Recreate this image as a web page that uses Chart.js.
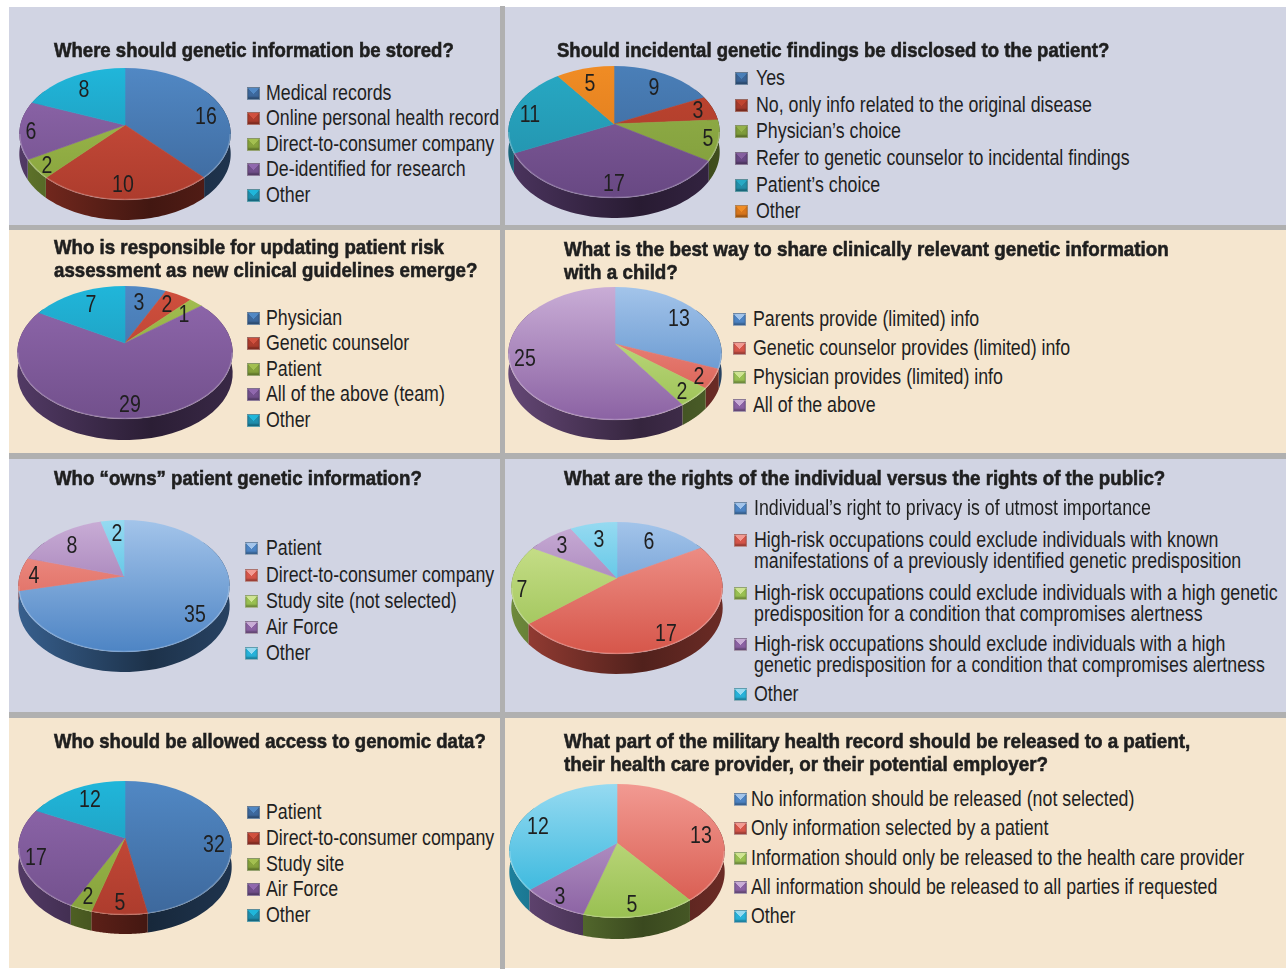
<!DOCTYPE html>
<html>
<head>
<meta charset="utf-8">
<title>Genetic information survey</title>
<script src="https://cdn.jsdelivr.net/npm/chart.js@4"></script>
<style>
  html, body { margin: 0; padding: 0; background: #fff; }
  #page { position: relative; width: 1286px; height: 969px; overflow: hidden; background: #fff; }
  .band { position: absolute; }
  canvas { position: absolute; }
  .txt { position: absolute; white-space: pre; color: #1f1f1f; font-family: 'Liberation Sans', sans-serif; }
  .title { font-size: 21px; line-height: 23px; font-weight: bold; -webkit-text-stroke: 0.6px #1f1f1f; color: #1f1f1f; transform-origin: 0 0; }
  .leg { font-size: 22px; line-height: 21px; transform-origin: 0 0; }
  .val { font-size: 23px; line-height: 23px; transform: translate(-50%, -50%) scaleX(0.85); }
  .swatch { position: absolute; width: 13px; height: 13px; box-sizing: border-box; border: 1px solid rgba(140,140,140,0.55); }
</style>
</head>
<body>
<div id="page"></div>
<script>
// survey answers, clockwise from 12 o'clock
const storedLabels = ['Medical records', 'Online personal health record', 'Direct-to-consumer company', 'De-identified for research', 'Other'];
const storedValues = [16, 10, 2, 6, 8];
const incidentalLabels = ['Yes', 'No, only info related to the original disease', "Physician\u2019s choice", 'Refer to genetic counselor to incidental findings', "Patient\u2019s choice", 'Other'];
const incidentalValues = [9, 3, 5, 17, 11, 5];
const updatingLabels = ['Physician', 'Genetic counselor', 'Patient', 'All of the above (team)', 'Other'];
const updatingValues = [3, 2, 1, 29, 7];
const childLabels = ['Parents provide (limited) info', 'Genetic counselor provides (limited) info', 'Physician provides (limited) info', 'All of the above'];
const childValues = [13, 2, 2, 25];
const ownsLabels = ['Patient', 'Direct-to-consumer company', 'Study site (not selected)', 'Air Force', 'Other'];
const ownsValues = [35, 4, 0, 8, 2];
const rightsLabels = ["Individual\u2019s right to privacy is of utmost importance",
  'High-risk occupations could exclude individuals with known\nmanifestations of a previously identified genetic predisposition',
  'High-risk occupations could exclude individuals with a high genetic\npredisposition for a condition that compromises alertness',
  'High-risk occupations should exclude individuals with a high\ngenetic predisposition for a condition that compromises alertness',
  'Other'];
const rightsValues = [6, 17, 7, 3, 3];
const accessLabels = ['Patient', 'Direct-to-consumer company', 'Study site', 'Air Force', 'Other'];
const accessValues = [32, 5, 2, 17, 12];
const recordLabels = ['No information should be released (not selected)', 'Only information selected by a patient', 'Information should only be released to the health care provider', 'All information should be released to all parties if requested', 'Other'];
const recordValues = [0, 13, 5, 3, 12];

// [top of gradient, bottom of gradient]
const darkColours = [['#5188c4', '#3d689c'], ['#d0503e', '#ad3c2d'], ['#a3bf50', '#86a23c'], ['#9068ad', '#72508c'], ['#20b6da', '#1f8fae'], ['#f39025', '#d8741a']];
const mutedColours = [['#4a7fb8', '#3a6496'], ['#c0452f', '#a53a2b'], ['#94b14a', '#7f9c3a'], ['#855f9f', '#684883'], ['#27a9c4', '#238ea8'], ['#f08c24', '#d8761c']];
const lightColours = [['#a3c4ea', '#4d84c4'], ['#f29a92', '#d6564a'], ['#cfe493', '#99c052'], ['#c9add6', '#8b62a3'], ['#96daf1', '#28b2da']];

const panels = [
  { title: 'Where should genetic information be stored?', tx: 54, ty: 38, squeeze: 0.883, labels: storedLabels, values: storedValues, colours: darkColours,
    cx: 125, cy: 125, rx: 106, up: 57, down: 75, depth: 20, legX: 266, swX: 247, legY: [93, 118, 144, 169, 195],
    valPos: [[206, 116], [123, 184], [47, 165], [31, 131], [84, 89]] },
  { title: 'Should incidental genetic findings be disclosed to the patient?', tx: 557, ty: 38, squeeze: 0.883, labels: incidentalLabels, values: incidentalValues, colours: mutedColours,
    cx: 614, cy: 124, rx: 106, up: 58, down: 74, depth: 20, legX: 756, swX: 735, legY: [78, 105, 131, 158, 185, 211],
    valPos: [[654, 87], [698, 110], [708, 138], [614, 183], [530, 114], [590, 83]] },
  { title: 'Who is responsible for updating patient risk\nassessment as new clinical guidelines emerge?', tx: 54, ty: 235, squeeze: 0.889, labels: updatingLabels, values: updatingValues, colours: darkColours,
    cx: 125, cy: 343, rx: 108, up: 57, down: 76, depth: 21, legX: 266, swX: 247, legY: [318, 343, 369, 394, 420],
    valPos: [[139, 302], [167, 304], [184, 314], [130, 404], [91, 304]] },
  { title: 'What is the best way to share clinically relevant genetic information\nwith a child?', tx: 564, ty: 237, squeeze: 0.895, labels: childLabels, values: childValues, colours: lightColours,
    cx: 615, cy: 344, rx: 107, up: 57, down: 76, depth: 20, legX: 753, swX: 733, legY: [319, 348, 377, 405],
    valPos: [[679, 318], [699, 376], [682, 391], [525, 358]] },
  { title: 'Who \u201cowns\u201d patient genetic information?', tx: 54, ty: 466, squeeze: 0.888, labels: ownsLabels, values: ownsValues, colours: lightColours,
    cx: 124, cy: 576, rx: 106, up: 56, down: 76, depth: 20, legX: 266, swX: 245, legY: [548, 575, 601, 627, 653],
    valPos: [[195, 614], [34, 575], null, [72, 545], [117, 533]] },
  { title: 'What are the rights of the individual versus the rights of the public?', tx: 564, ty: 466, squeeze: 0.89, labels: rightsLabels, values: rightsValues, colours: lightColours,
    cx: 617, cy: 578, rx: 106, up: 56, down: 76, depth: 20, legX: 754, swX: 734, legY: [508, 540, 593, 644, 694],
    valPos: [[649, 541], [666, 633], [522, 589], [562, 545], [599, 539]] },
  { title: 'Who should be allowed access to genomic data?', tx: 54, ty: 729, squeeze: 0.883, labels: accessLabels, values: accessValues, colours: darkColours,
    cx: 125, cy: 838, rx: 107, up: 57, down: 77, depth: 19, legX: 266, swX: 247, legY: [812, 838, 864, 889, 915],
    valPos: [[214, 844], [120, 902], [88, 896], [36, 857], [90, 799]] },
  { title: 'What part of the military health record should be released to a patient,\ntheir health care provider, or their potential employer?', tx: 564, ty: 729, squeeze: 0.896, labels: recordLabels, values: recordValues, colours: lightColours,
    cx: 617, cy: 843, rx: 108, up: 59, down: 75, depth: 21, legX: 751, swX: 734, legY: [799, 828, 858, 887, 916],
    valPos: [null, [701, 835], [632, 904], [560, 896], [538, 826]] }
];

const bands = [
  ['#d1d4e3', 9, 7, 491, 218], ['#d1d4e3', 505, 7, 781, 218],
  ['#f5e6cf', 9, 230, 491, 223], ['#f5e6cf', 505, 230, 781, 223],
  ['#d1d4e3', 9, 459, 491, 253], ['#d1d4e3', 505, 459, 781, 253],
  ['#f5e6cf', 9, 718, 491, 250], ['#f5e6cf', 505, 718, 781, 250]
];

const page = document.getElementById('page');
const legendSqueeze = 0.808;
const overdraw = 1.25; // arcs are blown up a bit, then cut back by the disc outline

function addText(cls, text, x, y, extra) {
  const d = document.createElement('div');
  d.className = 'txt ' + cls;
  d.textContent = text;
  d.style.left = x + 'px';
  d.style.top = y + 'px';
  if (extra) d.style.transform = extra;
  page.appendChild(d);
}

function shade(hex, f) {
  const n = parseInt(hex.slice(1), 16);
  const c = [n >> 16, (n >> 8) & 255, n & 255].map(v => Math.round(v * f));
  return 'rgb(' + c.join(',') + ')';
}

// numbers for seeing a circle in perspective: centre stays where the slices meet
function tilt(p, r) {
  const e = (p.down - p.up) / (p.down + p.up);
  const b = 2 * p.up * p.down / (p.up + p.down);
  const R = r * Math.sqrt(1 - e * e);
  return { e, b, R, k: b / R };
}

// squashes the flat Chart.js arcs into a tilted disc with a rim below it
const tiltedPie = {
  id: 'tiltedPie',
  beforeDatasetsDraw(chart, args, opts) {
    const ctx = chart.ctx;
    const arcs = chart.getDatasetMeta(0).data;
    const p = opts.panel;
    const cx = arcs[0].x, cy = arcs[0].y, r = arcs[0].outerRadius;
    const t = tilt(p, r);
    const rimPoint = a => {
      const w = 1 - t.e * Math.sin(a);
      return [cx + t.R * Math.cos(a) / w, cy + t.b * Math.sin(a) / w];
    };

    // rim
    arcs.forEach((arc, i) => {
      const from = Math.max(arc.startAngle, -0.6);
      const to = Math.min(arc.endAngle, Math.PI + 0.6);
      if (to <= from) return;
      const base = p.colours[i][1];
      const g = ctx.createLinearGradient(cx - r, 0, cx + r, 0);
      g.addColorStop(0, shade(base, 0.72));
      g.addColorStop(0.62, shade(base, 0.38));
      g.addColorStop(1, shade(base, 0.5));
      ctx.fillStyle = g;
      ctx.beginPath();
      const steps = 48;
      for (let s = 0; s <= steps; s++) {
        const q = rimPoint(from + (to - from) * s / steps);
        if (s === 0) ctx.moveTo(q[0], q[1]);
        else ctx.lineTo(q[0], q[1]);
      }
      for (let s = steps; s >= 0; s--) {
        const q = rimPoint(from + (to - from) * s / steps);
        ctx.lineTo(q[0], q[1] + p.depth);
      }
      ctx.closePath();
      ctx.fill();
    });

    // top face
    const ecy = cy + (p.down - p.up) / 2;
    const ery = (p.down + p.up) / 2;
    ctx.save();
    ctx.beginPath();
    ctx.ellipse(cx, ecy, r, ery, 0, 0, Math.PI * 2);
    ctx.clip();
    ctx.translate(cx, cy);
    ctx.scale(overdraw, overdraw * t.k);
    ctx.translate(-cx, -cy);
    arcs.forEach(arc => arc.draw(ctx));
    ctx.restore();

    // light edge of the disc
    ctx.strokeStyle = 'rgba(255,255,255,0.22)';
    ctx.lineWidth = 1.4;
    ctx.beginPath();
    ctx.ellipse(cx, ecy, r - 0.5, ery - 0.5, 0, 0, Math.PI);
    ctx.stroke();
    return false;
  }
};

bands.forEach(([colour, x, y, w, h]) => {
  const b = document.createElement('div');
  b.className = 'band';
  b.style.cssText = `background:${colour};left:${x}px;top:${y}px;width:${w}px;height:${h}px`;
  page.appendChild(b);
});
// grey gutters
[[500, 6, 5, 963], [9, 225, 1277, 5], [9, 453, 1277, 6], [9, 712, 1277, 6]].forEach(([x, y, w, h]) => {
  const b = document.createElement('div');
  b.className = 'band';
  b.style.cssText = `background:#b0b0b0;left:${x}px;top:${y}px;width:${w}px;height:${h}px`;
  page.appendChild(b);
});

panels.forEach(p => {
  const size = 2 * (p.rx + 3);
  const cv = document.createElement('canvas');
  cv.width = size;
  cv.height = size;
  cv.style.left = (p.cx - size / 2) + 'px';
  cv.style.top = (p.cy - size / 2) + 'px';
  page.appendChild(cv);
  const ctx = cv.getContext('2d');
  const t = tilt(p, p.rx);
  const fills = p.colours.slice(0, p.labels.length).map(c => {
    const g = ctx.createLinearGradient(0, size / 2 - p.up / (overdraw * t.k), 0, size / 2 + p.down / (overdraw * t.k));
    g.addColorStop(0, c[0]);
    g.addColorStop(1, c[1]);
    return g;
  });
  new Chart(ctx, {
    type: 'pie',
    data: { labels: p.labels, datasets: [{ data: p.values, backgroundColor: fills, borderColor: fills, borderWidth: 0.6 }] },
    options: {
      responsive: false,
      animation: false,
      events: [],
      layout: { padding: 3 },
      plugins: { legend: { display: false }, tooltip: { enabled: false }, tiltedPie: { panel: p } }
    },
    plugins: [tiltedPie]
  });

  addText('title', p.title, p.tx, p.ty, `scaleX(${p.squeeze})`);
  p.labels.forEach((label, i) => {
    addText('leg', label, p.legX, p.legY[i] - 11, `scaleX(${legendSqueeze})`);
    const c = p.colours[i];
    const s = document.createElement('div');
    s.className = 'swatch';
    s.style.left = p.swX + 'px';
    s.style.top = (p.legY[i] - 6) + 'px';
    s.style.background = `conic-gradient(from -45deg at 50% 50%, ${c[0]} 0 90deg, ${c[1]} 90deg 360deg)`;
    s.style.boxShadow = `inset 0 -2px 2px ${shade(c[1], 0.72)}`;
    page.appendChild(s);
  });
  p.values.forEach((v, i) => {
    if (p.valPos[i]) addText('val', String(v), p.valPos[i][0], p.valPos[i][1]);
  });
});
</script>
</body>
</html>
